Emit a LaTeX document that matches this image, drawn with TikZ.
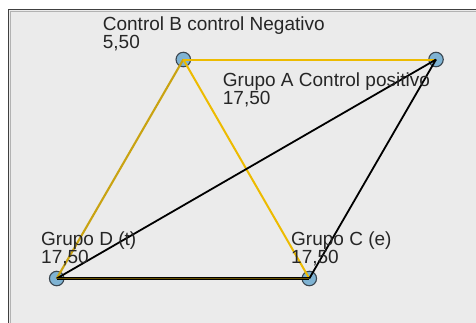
\documentclass[tikz,border=0pt]{standalone}
\usepackage{fontspec}
\setmainfont{Liberation Sans}
\definecolor{panelbg}{HTML}{EBEBEB}
\definecolor{panelbd}{HTML}{404040}
\definecolor{nodefill}{HTML}{7FB3D3}
\definecolor{nodebd}{HTML}{3A4650}
\definecolor{gold}{HTML}{EDBB00}
\definecolor{darkgold}{HTML}{C9A312}
\definecolor{txt}{HTML}{262626}
\begin{document}
\begin{tikzpicture}[x=1pt,y=-1pt,
  vert/.style={circle,draw=nodebd,fill=nodefill,line width=1.1pt,minimum size=14.5pt,inner sep=0pt},
  yedge/.style={draw=gold,line width=2pt},
  dyedge/.style={draw=darkgold,line width=2.1pt},
  bedge/.style={draw=black,line width=1.8pt},
  lbl/.style={anchor=base west,inner sep=0pt,text=txt,font=\fontsize{19}{18}\selectfont}]
\useasboundingbox (0,0) rectangle (476,322);
\fill[white] (0,0) rectangle (476,322);
\fill[panelbg] (8.5,9.5) rectangle (480,330);
\draw[panelbd,line width=1.5pt] (8.5,330) -- (8.5,9.5) -- (480,9.5);
\draw[gray!60,line width=0.8pt] (10.3,330) -- (10.3,11.3) -- (480,11.3);
% vertices
\node[vert] (B) at (183.3,59.5) {};
\node[vert] (A) at (436,59.5) {};
\node[vert] (D) at (56.7,278.5) {};
\node[vert] (C) at (309.3,278.5) {};
% edges
\draw[yedge] (B.center) -- (A.center);
\draw[dyedge] (D.center) -- (B.center);
\draw[yedge] (B.center) -- (C.center);
\draw[bedge] (D.center) -- (A.center);
\draw[bedge] (C.center) -- (A.center);
\draw[bedge,line width=2.2pt] (D.center) -- (C.center);
\draw[draw=gold!45!black,line width=0.6pt] (D.center) -- (C.center);
% labels
\node[lbl] (lb1) at (102.7,30.7) {Control B control Negativo};
\node[lbl] (lb2) at (102.7,48.3) {5,50};
\node[lbl] (la1) at (222.7,86) {Grupo A Control positivo};
\node[lbl] (la2) at (222.7,104) {17,50};
\node[lbl] (ld1) at (41,245.5) {Grupo D (t)};
\node[lbl] (ld2) at (41,263.5) {17,50};
\node[lbl] (lc1) at (291,245.5) {Grupo C (e)};
\node[lbl] (lc2) at (291,263.5) {17,50};
\end{tikzpicture}
\end{document}
